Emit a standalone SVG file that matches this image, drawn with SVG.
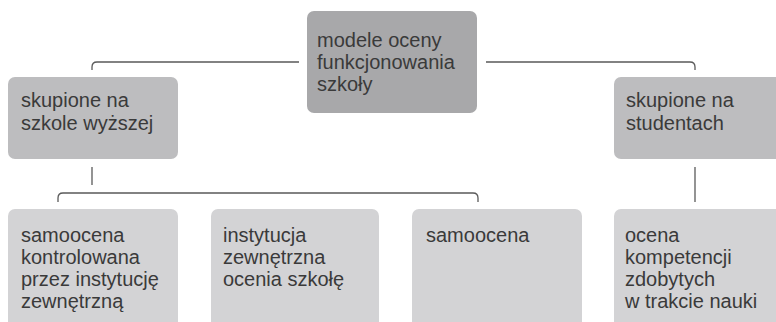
<svg xmlns="http://www.w3.org/2000/svg" width="776" height="322" viewBox="0 0 776 322">
<style>
.t{font-family:"Liberation Sans",Arial,Helvetica,sans-serif;font-size:20px;fill:#3a3a3a}
.c{fill:none;stroke:#5a5a5a;stroke-width:1.3}
.l0{fill:#a8a8aa}
.l1{fill:#bdbdbf}
.l2{fill:#d3d3d5}
</style>
<rect width="776" height="322" fill="#ffffff"/>
<g id="connectors">
<path class="c" d="M299,62 H97 Q92,62 92,67 V70"/>
<path class="c" d="M486,62 H690 Q695,62 695,67 V70"/>
<path class="c" d="M92,167 V185"/>
<path class="c" d="M473,193 H63 Q58,193 58,198 V202"/>
<path class="c" d="M473,193 Q478,193 478,198 V202"/>
<path class="c" d="M695,167 V202"/>
</g>
<g id="n-root">
<rect class="l0" x="307" y="11" width="170" height="102" rx="7"/>
<text class="t" x="317" y="47">modele oceny</text>
<text class="t" x="317" y="69">funkcjonowania</text>
<text class="t" x="317" y="91">szkoły</text>
</g>
<g id="n-szkola">
<rect class="l1" x="8" y="77" width="170" height="82" rx="7"/>
<text class="t" x="21" y="107">skupione na</text>
<text class="t" x="21" y="130">szkole wyższej</text>
</g>
<g id="n-studenci">
<rect class="l1" x="614" y="77" width="175" height="82" rx="7"/>
<text class="t" x="626" y="107">skupione na</text>
<text class="t" x="626" y="130">studentach</text>
</g>
<g id="n-kontrolowana">
<rect class="l2" x="8" y="209" width="170" height="125" rx="7"/>
<text class="t" x="21" y="242">samoocena</text>
<text class="t" x="21" y="264">kontrolowana</text>
<text class="t" x="21" y="286">przez instytucję</text>
<text class="t" x="21" y="308">zewnętrzną</text>
</g>
<g id="n-instytucja">
<rect class="l2" x="211" y="209" width="168" height="125" rx="7"/>
<text class="t" x="223" y="242">instytucja</text>
<text class="t" x="223" y="264">zewnętrzna</text>
<text class="t" x="223" y="286">ocenia szkołę</text>
</g>
<g id="n-samoocena">
<rect class="l2" x="412" y="209" width="170" height="125" rx="7"/>
<text class="t" x="426" y="242">samoocena</text>
</g>
<g id="n-kompetencje">
<rect class="l2" x="614" y="209" width="175" height="125" rx="7"/>
<text class="t" x="625" y="242">ocena</text>
<text class="t" x="625" y="264">kompetencji</text>
<text class="t" x="625" y="286">zdobytych</text>
<text class="t" x="625" y="308">w trakcie nauki</text>
</g>
</svg>
